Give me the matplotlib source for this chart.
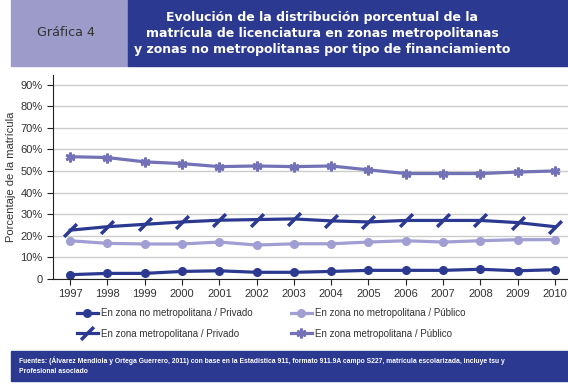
import numpy as np
import matplotlib
matplotlib.use('Agg')
import matplotlib.pyplot as plt
from matplotlib.patches import Rectangle

# datos
years = list(range(1997, 2011))
nometro_privado = [2.0, 2.6, 2.6, 3.5, 3.8, 3.1, 3.1, 3.5, 4.0, 4.0, 4.0, 4.5, 3.8, 4.3]
nometro_publico = [17.7, 16.5, 16.2, 16.2, 17.1, 15.7, 16.3, 16.3, 17.1, 17.7, 17.1, 17.7, 18.2, 18.2]
metro_privado = [22.6, 24.2, 25.3, 26.4, 27.2, 27.5, 27.8, 26.9, 26.4, 27.1, 27.1, 27.1, 26.1, 24.2]
metro_publico = [56.6, 56.2, 54.2, 53.4, 52.0, 52.3, 52.0, 52.3, 50.5, 48.8, 48.8, 48.8, 49.5, 50.0]
yticks = [0, 10, 20, 30, 40, 50, 60, 70, 80, 90]
ytick_labels = ['0', '10%', '20%', '30%', '40%', '50%', '60%', '70%', '80%', '90%']

dark = '#2B3990'
mid = '#7472B6'
light = '#A09ED2'
box_light = '#9D9BC9'

plt.rcParams['font.family'] = ['Liberation Sans', 'DejaVu Sans']

fig = plt.figure(figsize=(5.68, 3.84), dpi=100)

# cabecera
fig.patches.append(Rectangle((11/568, 1 - 66/384), (128-11)/568, 66/384,
                             transform=fig.transFigure, color=box_light, zorder=0))
fig.patches.append(Rectangle((128/568, 1 - 66/384), (568-128)/568, 66/384,
                             transform=fig.transFigure, color=dark, zorder=0))
fig.text(66/568, 1 - 33/384, 'Gráfica 4', ha='center', va='center',
         fontsize=9.2, color='#333333', family=['DejaVu Sans'])
fig.text(322/568, 1 - 33/384,
         'Evolución de la distribución porcentual de la\n'
         'matrícula de licenciatura en zonas metropolitanas\n'
         'y zonas no metropolitanas por tipo de financiamiento',
         ha='center', va='center', fontsize=9.0, color='white', fontweight='bold',
         linespacing=1.3, family=['DejaVu Sans'])

# pie
fig.patches.append(Rectangle((11/568, 1 - 381/384), (568-11)/568, (381-351)/384,
                             transform=fig.transFigure, color=dark, zorder=0))
fig.text(19/568, 1 - 366/384,
         'Fuentes: (Álvarez Mendiola y Ortega Guerrero, 2011) con base en la Estadística 911, '
         'formato 911.9A campo S227, matrícula escolarizada, incluye tsu y\nProfesional asociado',
         ha='left', va='center', fontsize=4.85, color='white', fontweight='bold',
         linespacing=1.6)

ax = fig.add_axes([53/568, 105/384, (568-53)/568, (279-75)/384])
ax.set_xlim(1996.54, 2010.35)
ax.set_ylim(0, 94.4)
ax.set_yticks(yticks)
ax.set_yticklabels(ytick_labels)
ax.set_xticks(years)
ax.grid(axis='y', color='#CCCCCC', linewidth=1)
ax.set_axisbelow(True)
for s in ['top', 'right']:
    ax.spines[s].set_visible(False)
ax.spines['left'].set_color('#222222')
ax.spines['bottom'].set_color('#222222')
ax.tick_params(axis='both', labelsize=8, color='#222222', labelcolor='#333333', length=4)
ax.set_ylabel('Porcentaje de la matrícula', fontsize=8, color='#333333', labelpad=3)

l1, = ax.plot(years, nometro_privado, color=dark, lw=2.3, marker='o', ms=5.5,
              label='En zona no metropolitana / Privado')
l2, = ax.plot(years, nometro_publico, color=light, lw=2.3, marker='o', ms=5.5,
              label='En zona no metropolitana / Público')
l3, = ax.plot(years, metro_privado, color=dark, lw=2.3, marker=(2, 0, -45), ms=13, mew=2.5,
              label='En zona metropolitana / Privado')
l4, = ax.plot(years, metro_publico, color=mid, lw=2.3, marker=(6, 2, 0), ms=7, mew=2,
              label='En zona metropolitana / Público')

fig.legend(handles=[l1, l3, l2, l4], ncol=2, loc='center', bbox_to_anchor=(271/568, 1 - 323.5/384),
           frameon=False, fontsize=7.0, handlelength=2.2, handletextpad=0.3,
           columnspacing=3.9, labelspacing=1.05, labelcolor='#333333')

fig.savefig('out.png', dpi=100)
